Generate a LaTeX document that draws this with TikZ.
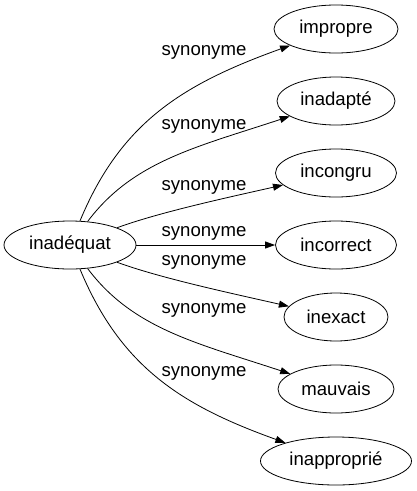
\documentclass[tikz,border=0pt]{standalone}
\usepackage{fontspec}
\setmainfont{Liberation Sans}
\usetikzlibrary{shapes.geometric,arrows.meta}
\begin{document}
\begin{tikzpicture}[x=1pt,y=-1pt,
  word/.style={ellipse,draw,line width=0.8pt,inner sep=0pt,minimum height=48pt,font=\fontsize{18.6}{20}\selectfont},
  lab/.style={inner sep=0pt,font=\fontsize{18.6}{20}\selectfont},
  syn/.style={line width=0.8pt,-{Triangle[length=10pt,width=7pt]}}]
\useasboundingbox (0,0) rectangle (417,491);
\node[word,minimum width=132pt] (src) at (70,245) {inadéquat};
\node[word,minimum width=124pt] (t1) at (336,29) {impropre};
\node[word,minimum width=118pt] (t2) at (336,101) {inadapté};
\node[word,minimum width=121pt] (t3) at (336,173) {incongru};
\node[word,minimum width=121pt] (t4) at (336,245) {incorrect};
\node[word,minimum width=104pt] (t5) at (336,317) {inexact};
\node[word,minimum width=116pt] (t6) at (336,389) {mauvais};
\node[word,minimum width=151pt] (t7) at (336,461) {inapproprié};
\node[lab] (l1) at (204,52) {synonyme};
\node[lab] (l2) at (204,126) {synonyme};
\node[lab] (l3) at (204,187) {synonyme};
\node[lab] (l4) at (204,233) {synonyme};
\node[lab] (l5) at (204,262) {synonyme};
\node[lab] (l6) at (204,310) {synonyme};
\node[lab] (l7) at (204,373) {synonyme};
\draw[syn] (src) .. controls (121,122) and (183,84) .. (t1);
\draw[syn] (src) .. controls (133,161) and (197,147) .. (t2);
\draw[syn] (src) .. controls (160,212) and (230,197) .. (t3);
\draw[syn] (src) -- (t4);
\draw[syn] (src) .. controls (160,278) and (230,293) .. (t5);
\draw[syn] (src) .. controls (133,329) and (197,343) .. (t6);
\draw[syn] (src) .. controls (121,368) and (183,406) .. (t7);
\end{tikzpicture}
\end{document}
